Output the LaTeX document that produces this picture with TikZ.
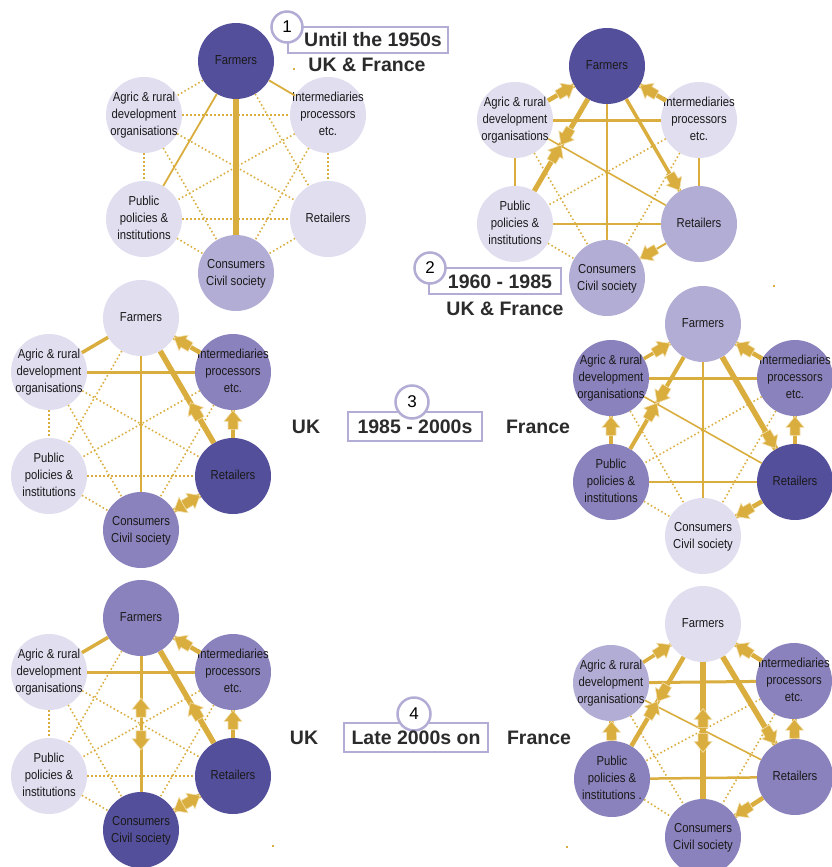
\documentclass[tikz,border=0pt]{standalone}
\usepackage{fontspec}
\setmainfont{Liberation Sans}[FakeStretch=0.87]
\newfontfamily\titlefamily{Liberation Sans}
\usetikzlibrary{decorations.markings}
\definecolor{gold}{HTML}{DAAE3E}
\definecolor{goldedge}{HTML}{F3E2B4}
\definecolor{lavD}{HTML}{544F9B}
\definecolor{lavMD}{HTML}{8A82BC}
\definecolor{lavM}{HTML}{B2ADD5}
\definecolor{lavL}{HTML}{E1DEF0}
\definecolor{ink}{HTML}{1A1A1A}
\definecolor{titleink}{HTML}{2B2B2B}
\newcommand{\houseshape}{\filldraw[fill=gold, draw=goldedge, line width=0.6pt, line join=miter] (0pt,0pt) -- (-11pt,9pt) -- (-11pt,5pt) -- (-19pt,5pt) -- (-19pt,-5pt) -- (-11pt,-5pt) -- (-11pt,-9pt) -- cycle;}
\newcommand{\ct}[1]{\raisebox{-3.2pt}[0pt][0pt]{\makebox[0pt]{\begin{tabular}{@{}c@{}}#1\end{tabular}}}}
\tikzset{
 actor/.style={circle, minimum size=76pt, inner sep=0pt, text=ink, font=\fontsize{13}{17}\selectfont},
 aL/.style={actor, fill=lavL}, aM/.style={actor, fill=lavM}, aMD/.style={actor, fill=lavMD}, aD/.style={actor, fill=lavD},
 dotl/.style={draw=gold, line width=1.6pt, dash pattern=on 1.5pt off 2.5pt},
 lnw/.style={draw=gold, line width=#1},
 tipat/.style={postaction={decorate, decoration={markings, mark=at position #1 with {\houseshape}}}},
 ttl/.style={inner sep=0pt, text=titleink, font=\titlefamily\bfseries\fontsize{19.5}{20}\selectfont},
 numc/.style={circle, draw=lavM, line width=2.5pt, fill=white, inner sep=0pt, text=black, font=\titlefamily\fontsize{17}{17}\selectfont},
 boxl/.style={draw=lavM, line width=2.5pt, fill=white},
}
\newcommand{\actors}[9]{%
 \node[#4] (F#1) at (#2,#3-106) {\ct{Farmers}};
 \node[#5] (A#1) at (#2-92,#3-52) {\ct{Agric \& rural\\development\\organisations}};
 \node[#6] (I#1) at (#2+92,#3-52) {\ct{Intermediaries\\processors\\etc.}};
 \node[#7] (P#1) at (#2-92,#3+52) {\ct{Public\\policies \&\\institutions}};
 \node[#8] (R#1) at (#2+92,#3+52) {\ct{Retailers}};
 \node[#9] (C#1) at (#2,#3+106) {\ct{Consumers\\Civil society}};
}
\begin{document}
\begin{tikzpicture}[x=1pt, y=-1pt]
\path[use as bounding box, fill=white] (0,0) rectangle (832,867);

% ---------- titles ----------
\draw[boxl] (288,27) rectangle (448,53);
\node[numc, minimum size=31pt] (n1) at (287,27) {1};
\node[ttl] (t1) at (373,40) {Until the 1950s};
\node[ttl] (t1b) at (367,65) {UK \& France};

\draw[boxl] (429,268) rectangle (561,294);
\node[numc, minimum size=31pt] (n2) at (430,268) {2};
\node[ttl] (t2) at (500,282) {1960 - 1985};
\node[ttl] (t2b) at (505,309) {UK \& France};

\draw[boxl] (348,412) rectangle (482,441);
\node[numc, minimum size=33pt] (n3) at (412,402) {3};
\node[ttl] (t3) at (415,427) {1985 - 2000s};
\node[ttl] (t3u) at (306,427) {UK};
\node[ttl] (t3f) at (538,427) {France};

\draw[boxl] (344,723) rectangle (488,752);
\node[numc, minimum size=33pt] (n4) at (414,714) {4};
\node[ttl] (t4) at (416,738) {Late 2000s on};
\node[ttl] (t4u) at (304,738) {UK};
\node[ttl] (t4f) at (539,738) {France};

\fill[gold] (293,68) rectangle (295,70);
\fill[gold] (773,285) rectangle (775,287);
\fill[gold] (272,845) rectangle (274,847);
\fill[gold] (566,846) rectangle (568,848);

% ---------- actors ----------
\actors{1}{236}{167}{aD}{aL}{aL}{aL}{aL}{aM}
\actors{2}{607}{172}{aD}{aL}{aL}{aL}{aM}{aM}
\actors{3u}{141}{424}{aL}{aL}{aMD}{aL}{aD}{aMD}
\actors{3f}{703}{430}{aM}{aMD}{aMD}{aMD}{aD}{aL}
\actors{4u}{141}{724}{aMD}{aL}{aMD}{aL}{aD}{aD}
\node[aL] (F4f) at (703,624) {\ct{Farmers}};
\node[aM] (A4f) at (611,683) {\ct{Agric \& rural\\development\\organisations}};
\node[aMD] (I4f) at (794,681) {\ct{Intermediaries\\processors\\etc.}};
\node[aMD] (P4f) at (612,779) {\ct{Public\\policies \&\\institutions .}};
\node[aMD] (R4f) at (795,777) {\ct{Retailers}};
\node[aMD] (C4f) at (703,837) {\ct{Consumers\\Civil society}};

% ---------- 1: until the 1950s ----------
\foreach \a/\b in {F1/A1,F1/R1,A1/I1,A1/P1,A1/R1,A1/C1,I1/P1,I1/R1,I1/C1,P1/R1,P1/C1,R1/C1} \draw[dotl] (\a) -- (\b);
\draw[lnw=5.5pt] (F1) -- (C1);
\draw[lnw=1.8pt] (F1) -- (I1);
\draw[lnw=1.8pt] (F1) -- (P1);

% ---------- 2: 1960-1985 ----------
\foreach \a/\b in {A2/C2,I2/P2,I2/C2,P2/C2} \draw[dotl] (\a) -- (\b);
\draw[lnw=2pt] (F2) -- (C2);
\draw[lnw=2pt] (A2) -- (P2);
\draw[lnw=1.6pt] (A2) -- (R2);
\draw[lnw=2pt] (I2) -- (R2);
\draw[lnw=3pt] (A2) -- (I2);
\draw[lnw=2.5pt] (P2) -- (R2);
\draw[lnw=3.5pt, tipat=0.995] (F2) -- (R2);
\draw[lnw=5pt, tipat=0.5] (F2) -- (P2);
\path[tipat=0.5] (P2) -- (F2);
\draw[lnw=4.5pt, tipat=0.995] (A2) -- (F2);
\draw[lnw=4.5pt, tipat=0.995] (I2) -- (F2);
\draw[lnw=2pt, tipat=0.995] (R2) -- (C2);

% ---------- 3 UK ----------
\foreach \a/\b in {F3u/P3u,A3u/P3u,A3u/R3u,A3u/C3u,I3u/P3u,I3u/C3u,P3u/R3u,P3u/C3u} \draw[dotl] (\a) -- (\b);
\draw[lnw=3.5pt] (F3u) -- (A3u);
\draw[lnw=2pt] (F3u) -- (C3u);
\draw[lnw=3pt] (A3u) -- (I3u);
\draw[lnw=5.5pt, tipat=0.44] (R3u) -- (F3u);
\draw[lnw=4.5pt, tipat=0.995] (I3u) -- (F3u);
\draw[lnw=4.5pt, tipat=0.995] (R3u) -- (I3u);
\draw[lnw=4.5pt, tipat=0.995] (R3u) -- (C3u);
\path[tipat=0.995] (C3u) -- (R3u);

% ---------- 3 France ----------
\foreach \a/\b in {A3f/C3f,I3f/P3f,I3f/C3f,P3f/C3f} \draw[dotl] (\a) -- (\b);
\draw[lnw=2pt] (F3f) -- (C3f);
\draw[lnw=3pt] (A3f) -- (I3f);
\draw[lnw=1.6pt] (A3f) -- (R3f);
\draw[lnw=2.5pt] (P3f) -- (R3f);
\draw[lnw=4pt, tipat=0.5] (F3f) -- (P3f);
\path[tipat=0.5] (P3f) -- (F3f);
\draw[lnw=5.5pt, tipat=0.995] (F3f) -- (R3f);
\draw[lnw=3.5pt, tipat=0.995] (A3f) -- (F3f);
\draw[lnw=4.5pt, tipat=0.995] (I3f) -- (F3f);
\draw[lnw=4.5pt, tipat=0.995] (P3f) -- (A3f);
\draw[lnw=4.5pt, tipat=0.995] (R3f) -- (I3f);
\draw[lnw=4.5pt, tipat=0.995] (R3f) -- (C3f);

% ---------- 4 UK ----------
\foreach \a/\b in {F4u/P4u,A4u/P4u,A4u/R4u,A4u/C4u,I4u/P4u,I4u/C4u,P4u/R4u,P4u/C4u} \draw[dotl] (\a) -- (\b);
\draw[lnw=3.5pt] (F4u) -- (A4u);
\draw[lnw=3pt] (A4u) -- (I4u);
\draw[lnw=3pt, tipat=0.69] (C4u) -- (F4u);
\path[tipat=0.69] (F4u) -- (C4u);
\draw[lnw=5.5pt, tipat=0.44] (R4u) -- (F4u);
\draw[lnw=4.5pt, tipat=0.995] (I4u) -- (F4u);
\draw[lnw=4.5pt, tipat=0.995] (R4u) -- (I4u);
\draw[lnw=4.5pt, tipat=0.995] (R4u) -- (C4u);
\path[tipat=0.995] (C4u) -- (R4u);

% ---------- 4 France ----------
\foreach \a/\b in {A4f/C4f,I4f/P4f,I4f/C4f,P4f/C4f} \draw[dotl] (\a) -- (\b);
\draw[lnw=3pt] (A4f) -- (I4f);
\draw[lnw=1.6pt] (A4f) -- (R4f);
\draw[lnw=2.5pt] (P4f) -- (R4f);
\draw[lnw=5.5pt, tipat=0.66] (C4f) -- (F4f);
\path[tipat=0.66] (F4f) -- (C4f);
\draw[lnw=4.5pt, tipat=0.5] (F4f) -- (P4f);
\path[tipat=0.5] (P4f) -- (F4f);
\draw[lnw=5.5pt, tipat=0.995] (F4f) -- (R4f);
\draw[lnw=3.5pt, tipat=0.995] (A4f) -- (F4f);
\draw[lnw=4.5pt, tipat=0.995] (I4f) -- (F4f);
\draw[lnw=4.5pt, tipat=0.995] (P4f) -- (A4f);
\draw[lnw=4.5pt, tipat=0.995] (R4f) -- (I4f);
\draw[lnw=4.5pt, tipat=0.995] (R4f) -- (C4f);
\end{tikzpicture}
\end{document}
